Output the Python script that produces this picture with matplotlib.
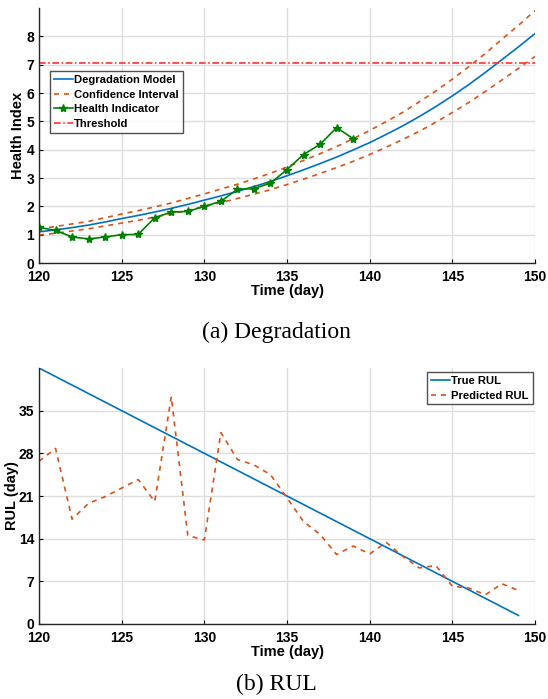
import matplotlib.pyplot as plt
import numpy as np

plt.rcParams['font.family'] = ['Liberation Sans', 'DejaVu Sans']
plt.rcParams['font.weight'] = 'bold'

# --- (a) degradation ---
days = np.arange(120, 151)
model = [1.10, 1.17, 1.25, 1.34, 1.45, 1.57, 1.68, 1.80, 1.93, 2.07, 2.22,
         2.37, 2.53, 2.70, 2.88, 3.08, 3.29, 3.51, 3.74, 3.99, 4.25,
         4.54, 4.84, 5.17, 5.52, 5.90, 6.30, 6.73, 7.18, 7.63, 8.10]
upper = [1.21, 1.29, 1.38, 1.47, 1.60, 1.73, 1.85, 1.98, 2.12, 2.28, 2.44,
         2.61, 2.78, 2.97, 3.17, 3.39, 3.62, 3.86, 4.11, 4.39, 4.68,
         4.99, 5.32, 5.69, 6.07, 6.49, 6.93, 7.40, 7.90, 8.39, 8.91]
lower = [0.99, 1.05, 1.13, 1.21, 1.31, 1.41, 1.51, 1.62, 1.74, 1.86, 2.00,
         2.13, 2.28, 2.43, 2.59, 2.77, 2.96, 3.16, 3.37, 3.59, 3.83,
         4.09, 4.36, 4.65, 4.97, 5.31, 5.67, 6.06, 6.46, 6.87, 7.29]
hi_days = np.arange(120, 140)
health = [1.26, 1.15, 0.92, 0.85, 0.92, 1.00, 1.01, 1.60, 1.80, 1.82,
          2.00, 2.18, 2.60, 2.63, 2.82, 3.30, 3.83, 4.19, 4.78, 4.39]
threshold = 7.05

# --- (b) RUL ---
rul_days = np.arange(120, 150)
true_rul = [42.0, 40.6, 39.2, 37.8, 36.4, 35.0, 33.6, 32.2, 30.8, 29.4,
            28.0, 26.6, 25.2, 23.8, 22.4, 21.0, 19.6, 18.2, 16.8, 15.4,
            14.0, 12.6, 11.2, 9.8, 8.4, 7.0, 5.6, 4.2, 2.8, 1.4]
pred_rul = [26.7, 28.8, 17.2, 19.8, 20.9, 22.3, 23.7, 20.1, 37.3, 14.5,
            13.8, 31.4, 27.0, 26.1, 24.5, 20.7, 16.8, 14.7, 11.4, 12.8,
            11.5, 13.4, 11.1, 9.2, 9.6, 6.2, 5.9, 4.8, 6.6, 5.5]

blue = '#0072BD'
orange = '#D95319'
green = '#008000'
red = '#ff3030'

fig = plt.figure(figsize=(5.48, 6.99), dpi=100)
ax1 = fig.add_axes([0.0712, 0.6237, 0.9051, 0.3648])
ax2 = fig.add_axes([0.0712, 0.1073, 0.9051, 0.3662])


def style(ax):
    ax.spines['top'].set_visible(False)
    ax.spines['right'].set_visible(False)
    for s in ['left', 'bottom']:
        ax.spines[s].set_color('#262626')
        ax.spines[s].set_linewidth(1.0)
    ax.grid(True, color='#dedede', linewidth=1.0)
    ax.set_axisbelow(True)
    ax.tick_params(labelsize=10, length=3, width=0.8, direction='in')
    ax.tick_params(axis='x', pad=5)
    ax.tick_params(axis='y', pad=3.5)
    for lab in ax.get_xticklabels() + ax.get_yticklabels():
        lab.set_fontweight('bold')


def legend_style(leg):
    leg.get_frame().set_linewidth(1.0)
    for t in leg.get_texts():
        t.set_fontweight('bold')


ax1.plot(days, model, color=blue, lw=1.2, label='Degradation Model')
ax1.plot(days, upper, color=orange, lw=1.2, ls='--', dashes=(3, 3), label='Confidence Interval')
ax1.plot(days, lower, color=orange, lw=1.2, ls='--', dashes=(3, 3))
ax1.plot(hi_days, health, color=green, lw=1.2, marker='*', ms=6, label='Health Indicator')
ax1.axhline(threshold, color=red, lw=1.2, ls='-.', dashes=(4, 1.5, 1, 1.5), label='Threshold')
ax1.set_xlim(120, 150)
ax1.set_ylim(0, 9)
ax1.set_xticks([120, 125, 130, 135, 140, 145, 150])
ax1.set_yticks(range(0, 9))
ax1.set_xlabel('Time (day)', fontsize=10.5, fontweight='bold', labelpad=0)
ax1.set_ylabel('Health Index', fontsize=10.5, fontweight='bold', labelpad=1)
style(ax1)
leg = ax1.legend(loc='upper left', bbox_to_anchor=(0.022, 0.753), fontsize=8.1,
                 frameon=True, fancybox=False, edgecolor='#262626', handlelength=1.7,
                 handletextpad=0.1, borderpad=0.35, labelspacing=0.42, borderaxespad=0)
legend_style(leg)

ax2.plot(rul_days, true_rul, color=blue, lw=1.2, label='True RUL')
ax2.plot(rul_days, pred_rul, color=orange, lw=1.2, ls='--', dashes=(3, 3), label='Predicted RUL')
ax2.set_xlim(120, 150)
ax2.set_ylim(0, 42)
ax2.set_xticks([120, 125, 130, 135, 140, 145, 150])
ax2.set_yticks([0, 7, 14, 21, 28, 35])
ax2.set_xlabel('Time (day)', fontsize=10.5, fontweight='bold', labelpad=0)
ax2.set_ylabel('RUL (day)', fontsize=10.5, fontweight='bold', labelpad=0)
style(ax2)
leg2 = ax2.legend(loc='upper right', bbox_to_anchor=(0.995, 0.985), fontsize=8.1,
                  frameon=True, fancybox=False, edgecolor='#262626', handlelength=1.7,
                  handletextpad=0.1, borderpad=0.35, labelspacing=0.42, borderaxespad=0)
legend_style(leg2)

fig.text(0.505, 0.525, '(a) Degradation', family='Liberation Serif', fontweight='normal',
         fontsize=17, ha='center', va='center')
fig.text(0.505, 0.0215, '(b) RUL', family='Liberation Serif', fontweight='normal',
         fontsize=17, ha='center', va='center')

fig.savefig('out.png', dpi=100)
